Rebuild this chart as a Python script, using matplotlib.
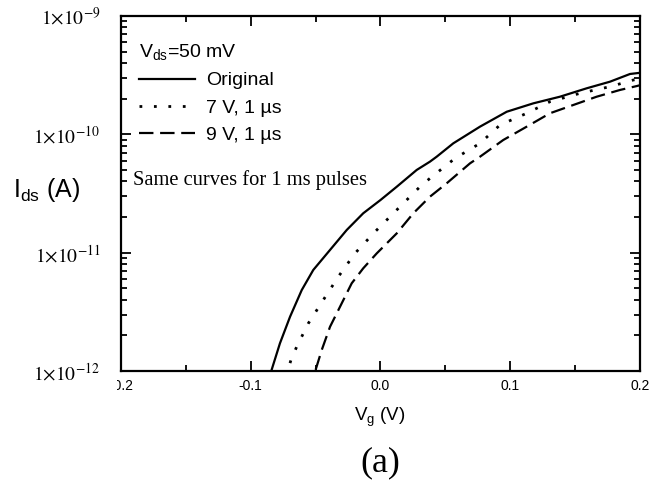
import numpy as np
import matplotlib
matplotlib.use("Agg")
import matplotlib.pyplot as plt
from matplotlib.ticker import LogLocator, FixedLocator, NullFormatter
from matplotlib.transforms import Bbox, TransformedBbox

plt.rcParams['font.family'] = ['Liberation Sans', 'DejaVu Sans']
plt.rcParams['mathtext.fontset'] = 'custom'
plt.rcParams['mathtext.rm'] = 'Liberation Sans'
plt.rcParams['mathtext.it'] = 'Liberation Sans:italic'
plt.rcParams['mathtext.bf'] = 'Liberation Sans:bold'

# ---- data (V_g in volts, log10 of I_ds in amperes) ----
vg_original = [-0.0839, -0.0775, -0.0697, -0.0607, -0.0518, -0.0389, -0.0260, -0.0133,
               0.0000, 0.0125, 0.0279, 0.0381, 0.0433, 0.0561, 0.0767, 0.0973,
               0.1178, 0.1383, 0.1589, 0.1769, 0.1923, 0.2000]
logI_original = [-11.99, -11.766, -11.541, -11.316, -11.146, -10.977, -10.808, -10.667,
                 -10.555, -10.443, -10.301, -10.231, -10.189, -10.076, -9.935, -9.809,
                 -9.738, -9.682, -9.611, -9.555, -9.490, -9.480]

vg_7v = [-0.0730, -0.0690, -0.0646, -0.0556, -0.0441, -0.0325, -0.0197, -0.0042,
         0.0125, 0.0304, 0.0381, 0.0574, 0.0767, 0.0921, 0.1127, 0.1306,
         0.1538, 0.1769, 0.1948, 0.2000]
logI_7v = [-12.05, -11.907, -11.795, -11.597, -11.400, -11.203, -11.006, -10.823,
           -10.639, -10.443, -10.372, -10.203, -10.076, -9.921, -9.822, -9.724,
           -9.653, -9.597, -9.541, -9.530]

vg_9v = [-0.0500, -0.0453, -0.0389, -0.0312, -0.0222, -0.0133, -0.0029, 0.0125,
         0.0253, 0.0381, 0.0510, 0.0690, 0.0767, 0.0946, 0.1127, 0.1306,
         0.1486, 0.1666, 0.1846, 0.1975, 0.2000]
logI_9v = [-11.99, -11.823, -11.626, -11.457, -11.259, -11.132, -11.006, -10.837,
           -10.667, -10.527, -10.414, -10.245, -10.189, -10.048, -9.935, -9.822,
           -9.752, -9.682, -9.625, -9.592, -9.585]

labels = ['Original', '7 V, 1 \u00b5s', '9 V, 1 \u00b5s']
xticks = [-0.2, -0.1, 0.0, 0.1, 0.2]
xticklabels = ['-0.2', '-0.1', '0.0', '0.1', '0.2']
yticks = [1e-12, 1e-11, 1e-10, 1e-9]
yticklabels = [r'$1{\times}10^{-12}$', r'$1{\times}10^{-11}$', r'$1{\times}10^{-10}$', r'$1{\times}10^{-9}$']

fig = plt.figure(figsize=(6.49, 4.82), dpi=100)
ax = fig.add_axes([121/649, 1-371/482, (640-121)/649, (371-16)/482])

lw = 1.6
ax.plot(vg_original, 10**np.array(logI_original), color='black', lw=lw, label=labels[0])
ax.plot(vg_7v, 10**np.array(logI_7v), color='black', lw=2.0, linestyle=(0, (1, 4.2)),
        label=labels[1])
ax.plot(vg_9v, 10**np.array(logI_9v), color='black', lw=lw, linestyle=(0, (6.5, 3)),
        label=labels[2])

ax.set_yscale('log')
ax.set_xlim(-0.2, 0.2)
ax.set_ylim(1e-12, 1e-9)

ax.set_xticks(xticks)
ax.set_xticklabels(xticklabels, fontsize=10)
ax.xaxis.set_minor_locator(FixedLocator([-0.15, -0.05, 0.05, 0.15]))
ax.set_yticks(yticks)
ax.set_yticklabels(yticklabels, fontsize=14)
for t in ax.get_yticklabels():
    t.set_math_fontfamily('stix')
ax.yaxis.set_minor_locator(LogLocator(base=10, subs=np.arange(2, 10), numticks=20))
ax.yaxis.set_minor_formatter(NullFormatter())

ax.tick_params(which='both', direction='in', top=True, right=True, width=1.3)
ax.tick_params(which='major', length=7)
ax.tick_params(which='minor', length=4)
ax.tick_params(axis='x', which='major', pad=6)
ax.tick_params(axis='y', which='major', pad=15)
for s in ax.spines.values():
    s.set_linewidth(1.6)

# clip the left-most x tick label as in the scanned original
lab0 = ax.xaxis.get_major_ticks()[0].label1
lab0.set_clip_box(TransformedBbox(Bbox([[117/649, 0], [1, 1]]), fig.transFigure))
lab0.set_clip_on(True)

leg = ax.legend(loc='upper left', frameon=False, fontsize=14,
                title=r'V$_{\mathrm{ds}}$=50 mV', title_fontsize=14,
                alignment='left', handlelength=2.9, handletextpad=0.55,
                labelspacing=0.5, borderaxespad=0.0, borderpad=0.0,
                bbox_to_anchor=((139-121)/519, 1-(42-16)/355))

ax.text((133-121)/519, 1-(185-16)/355, 'Same curves for 1 ms pulses', transform=ax.transAxes,
        fontsize=14.8, family='Liberation Serif', ha='left', va='baseline')

fig.text(47/649, 1-190/482, r'I$_{\mathrm{ds}}$ (A)', fontsize=18, ha='center', va='center')
fig.text(380/649, 1-417/482, r'V$_{\mathrm{g}}$ (V)', fontsize=13.5, ha='center', va='center')
fig.text(380/649, 1-463/482, '(a)', fontsize=26, family='Liberation Serif',
         ha='center', va='center')

fig.savefig('out.png', dpi=100)
